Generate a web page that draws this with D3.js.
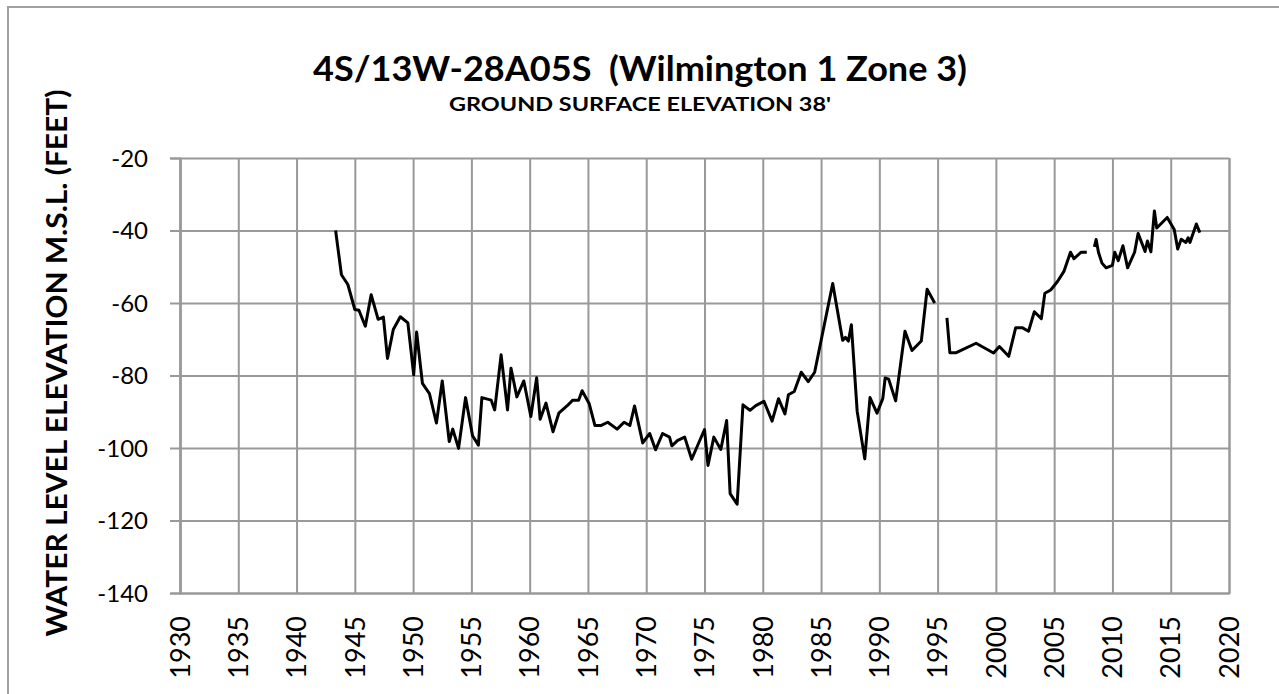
<!DOCTYPE html>
<html><head><meta charset="utf-8">
<script src="https://cdn.jsdelivr.net/npm/d3@7"></script>
<style>body{margin:0;background:#fff}svg{display:block}text{white-space:pre}</style>
</head><body>
<svg id="c" width="1279" height="694"></svg>
<script>
const titleText = "4S/13W-28A05S  (Wilmington 1 Zone 3)";
const subtitleText = "GROUND SURFACE ELEVATION 38'";
const yAxisTitle = "WATER LEVEL ELEVATION M.S.L. (FEET)";
const xTickYears = [1930,1935,1940,1945,1950,1955,1960,1965,1970,1975,1980,1985,1990,1995,2000,2005,2010,2015,2020];
const yTickValues = [-20,-40,-60,-80,-100,-120,-140];

// null marks a break in the record
const years = [
1943.35,1943.85,1944.4,1945.0,1945.35,1945.9,1946.4,1947.0,1947.45,1947.8,
1948.3,1948.9,1949.55,1950.05,1950.3,1950.8,1951.4,1952.0,1952.5,1953.1,
1953.4,1953.9,1954.5,1955.1,1955.6,1955.9,1956.7,1957.0,1957.55,1958.1,
1958.4,1958.9,1959.5,1960.1,1960.6,1960.9,1961.4,1962.0,1962.5,1963.2,
1963.7,1964.2,1964.5,1965.1,1965.6,1966.1,1966.7,1967.5,1968.1,1968.6,
1969.0,1969.7,1970.3,1970.8,1971.4,1972.0,1972.2,1972.7,1973.3,1973.9,
1975.0,1975.3,1975.8,1976.4,1976.9,1977.2,1977.8,1978.3,1978.9,1979.4,
1980.1,1980.8,1981.35,1981.9,1982.2,1982.7,1983.3,1983.9,1984.45,1986.0,
1986.85,1987.1,1987.35,1987.6,1988.1,1988.75,1989.2,1989.8,1990.3,1990.5,
1990.8,1991.4,1992.2,1992.8,1993.6,1994.1,1994.75,
null,
1995.8,1996.05,1996.6,1998.3,1999.8,2000.3,2001.1,2001.7,2002.25,2002.8,
2003.3,2003.9,2004.2,2004.7,2005.3,2005.85,2006.4,2006.7,2007.3,2007.8,
null,
2008.45,2008.6,2008.8,2009.1,2009.45,2010.0,2010.2,2010.5,2010.9,2011.3,
2011.9,2012.2,2012.8,2013.0,2013.3,2013.6,2013.8,2014.7,2015.3,2015.6,
2015.9,2016.3,2016.5,2016.65,2017.2,2017.5
];
const levels = [
-40,-52.2,-54.9,-61.8,-62,-66.4,-57.7,-64.5,-63.9,-75.3,
-67.3,-63.8,-65.5,-79.8,-68,-82.2,-85,-93.1,-81.5,-98.2,
-94.8,-100.1,-86.1,-96.6,-99.2,-86.1,-86.8,-89.5,-74.3,-89.5,
-78,-85.9,-81.5,-91.3,-80.6,-92.1,-87.6,-95.5,-90.4,-88.4,
-86.8,-86.8,-84.2,-87.7,-93.8,-93.8,-92.9,-94.8,-92.9,-93.8,
-88.4,-98.6,-96,-100.5,-96,-97,-99.4,-97.9,-97,-103.1,
-94.9,-104.8,-97,-100.4,-92.4,-112.6,-115.5,-88.1,-89.6,-88.3,
-87.1,-92.6,-86.4,-90.6,-85.3,-84.4,-79.1,-81.7,-79.1,-54.6,
-70.3,-69.5,-70.5,-66,-89.9,-103,-86.1,-90.4,-86.3,-80.7,
-81,-87,-67.8,-73.1,-70.5,-56.2,-60,
null,
-64.1,-73.7,-73.7,-71.1,-73.8,-72,-74.7,-66.8,-66.8,-67.8,
-62.4,-64.3,-57.3,-56.4,-54,-51.2,-46,-47.8,-46,-46,
null,
-44.5,-42.5,-46,-49,-50.3,-49.6,-46,-48.3,-44.2,-50.3,
-46,-40.8,-45.8,-42.9,-45.9,-34.6,-39.3,-36.4,-39.7,-45.1,
-42.4,-43.3,-42,-43.3,-38.2,-40.6
];

const svg = d3.select("#c");
const gridColor = "#999999";
const fontFam = "Lato, 'Open Sans', 'Liberation Sans', sans-serif";

// outer chart border
svg.append("rect").attr("x",8).attr("y",7).attr("width",1400).attr("height",800)
  .attr("fill","none").attr("stroke","#a0a0a0").attr("stroke-width",2);

const x = d3.scaleLinear().domain([1930,2020]).range([180,1229]);
const y = d3.scaleLinear().domain([-140,-20]).range([593,158]);
const plotW = x.range()[1]-x.range()[0];
const plotH = y.range()[0]-y.range()[1];

// vertical gridlines
const gx = svg.append("g").attr("transform",`translate(0,${y(-140)})`)
  .call(d3.axisBottom(x).tickValues(xTickYears).tickSize(-plotH).tickFormat(""));
// horizontal gridlines + outward ticks
const gy = svg.append("g").attr("transform",`translate(${x(1930)},0)`)
  .call(d3.axisLeft(y).tickValues(yTickValues).tickSizeInner(-plotW).tickSizeOuter(0).tickFormat(""));
const gyt = svg.append("g").attr("transform",`translate(${x(1930)},0)`)
  .call(d3.axisLeft(y).tickValues(yTickValues).tickSize(10).tickFormat(""));
[gx,gy,gyt].forEach(g=>{
  g.selectAll("line").attr("stroke",gridColor).attr("stroke-width",2);
  g.select(".domain").attr("stroke",gridColor).attr("stroke-width",2);
});

// y tick labels
svg.append("g").selectAll("text").data(yTickValues).join("text")
  .attr("x",148).attr("y",d=>y(d)).attr("dy","0.36em")
  .attr("text-anchor","end").attr("font-family",fontFam).attr("font-size",24)
  .attr("fill","#000").text(d=>d);

// x tick labels (rotated)
svg.append("g").selectAll("text").data(xTickYears).join("text")
  .attr("transform",d=>`translate(${x(d)},616) rotate(-90)`)
  .attr("dy","0.36em").attr("text-anchor","end")
  .attr("font-family",fontFam).attr("font-size",27).attr("fill","#000").text(d=>d);

// data line
const pts = years.map((yr,i)=>[yr,levels[i]]);
const line = d3.line().defined(d=>d[0]!=null && d[1]!=null).x(d=>x(d[0])).y(d=>y(d[1]));
svg.append("path").datum(pts).attr("d",line).attr("fill","none")
  .attr("stroke","#000").attr("stroke-width",3).attr("stroke-linejoin","round");

// titles
svg.append("text").attr("x",640).attr("y",81).attr("text-anchor","middle")
  .attr("font-family",fontFam).attr("font-weight","bold").attr("font-size",34)
  .attr("textLength",654).attr("lengthAdjust","spacingAndGlyphs").text(titleText);
svg.append("text").attr("x",640).attr("y",111).attr("text-anchor","middle")
  .attr("font-family",fontFam).attr("font-weight","bold").attr("font-size",18)
  .attr("textLength",382).attr("lengthAdjust","spacingAndGlyphs").text(subtitleText);
svg.append("text").attr("transform","translate(57,363) rotate(-90)")
  .attr("dy","0.36em").attr("text-anchor","middle")
  .attr("font-family",fontFam).attr("font-weight","bold").attr("font-size",29)
  .attr("textLength",547).attr("lengthAdjust","spacingAndGlyphs").text(yAxisTitle);
</script>
</body></html>
